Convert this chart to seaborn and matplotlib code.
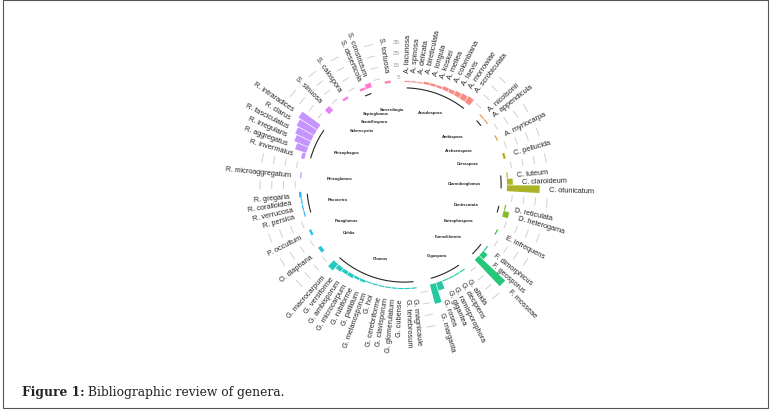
#!/usr/bin/env python3
"""Circular barplot: bibliographic review of AMF genera (references per species)."""

import numpy as np
import seaborn as sns
from matplotlib import pyplot as plt
from matplotlib.patches import Rectangle

# --- data -------------------------------------------------------------------
genera = [
    "Acaulospora", "Ambispora", "Archaeospora", "Cetraspora", "Claroideoglomus",
    "Dentiscutata", "Entrophospora", "Funneliformis", "Gigaspora", "Glomus",
    "Oehlia", "Paraglomus", "Racocetra", "Rhizoglomus", "Rhizophagus",
    "Sclerocystis", "Scutellospora", "Septoglomus", "Sieverdingia",
]

species = [
    "A. lacunosa", "A. spinosa", "A. delicata", "A. bireticulata", "A. longula",
    "A. koskei", "A. mellea", "A. colombiana", "A. laevis", "A. morrowiae",
    "A. scrobiculata",
    "A. nicolsonii", "A. appendicula",
    "A. myriocarpa",
    "C. pellucida",
    "C. luteum", "C. claroideum", "C. otunicatum",
    "D. reticulata", "D. heterogama",
    "E. infrequens",
    "F. dimorphicus", "F. geosporus", "F. mosseae",
    "G. albida", "G. decipiens", "G. ramisporophora", "G. gigantea", "G. rosea",
    "G. margarita",
    "G. magnicaule", "G. tenebrosum", "G. cubense", "G. glomerulatum",
    "G. clavisporum", "G. cerebriforme", "G. hoi", "G. melanosporum",
    "G. pallidum", "G. rubiforme", "G. microcarpum", "G. ambisporum",
    "G. versiforme", "G. macrocarpum",
    "O. diaphana",
    "P. occultum",
    "R. persica", "R. verrucosa", "R. coralloidea", "R. gregaria",
    "R. microaggregatum",
    "R. invermaius", "R. aggregatus", "R. irregularis", "R. fasciculatus",
    "R. clarus", "R. intraradices",
    "S. sinuosa",
    "S. calospora",
    "S. deserticola", "S. constrictum",
    "S. tortuosa",
]

species_per_genus = [11, 2, 1, 1, 3, 2, 1, 3, 6, 14, 1, 1, 4, 1, 6, 1, 1, 2, 1]

n_refs = [
    1, 1, 1, 2, 2, 2, 3, 3, 4, 5, 6,
    1, 1,
    1,
    2,
    1, 5, 28,
    1, 5,
    1,
    1, 5, 31,
    1, 1, 1, 1, 7, 17,
    1, 1, 1, 1, 1, 1, 1, 1, 2, 2, 3, 3, 4, 7,
    3,
    2,
    1, 1, 1, 2,
    1,
    3, 10, 13, 15, 17, 19,
    5,
    2,
    2, 4,
    2,
]

scale_ticks = [5, 15, 25, 35]
caption_bold = "Figure 1:"
caption_text = "Bibliographic review of genera."


def hcl_color(h, c=100.0, l=65.0):
    """Couleur HCL (polar Luv) -> sRGB, comme la palette par défaut de ggplot."""
    hr = np.deg2rad(h)
    u, v = c * np.cos(hr), c * np.sin(hr)
    xn, yn, zn = 95.047, 100.0, 108.883
    den = xn + 15 * yn + 3 * zn
    un, vn = 4 * xn / den, 9 * yn / den
    y = yn * ((l + 16) / 116) ** 3
    up, vp = u / (13 * l) + un, v / (13 * l) + vn
    x = y * 9 * up / (4 * vp)
    z = y * (12 - 3 * up - 20 * vp) / (4 * vp)
    m = np.array([[3.2404542, -1.5371385, -0.4985314],
                  [-0.9692660, 1.8760108, 0.0415560],
                  [0.0556434, -0.2040259, 1.0572252]])
    rgb = m @ (np.array([x, y, z]) / 100)
    rgb = np.clip(rgb, 0, None)
    rgb = np.where(rgb <= 0.0031308, 12.92 * rgb, 1.055 * rgb ** (1 / 2.4) - 0.055)
    return tuple(np.clip(rgb, 0, 1))


def main():
    sns.set_theme(style="white")
    plt.rcParams["font.family"] = ["Liberation Sans", "DejaVu Sans"]

    n_gen = len(genera)
    palette = sns.color_palette(
        [hcl_color(15 + 360 * k / n_gen) for k in range(n_gen)]
    )

    # positions : 2 cases vides après chaque genre
    empty = 2
    slot_of, genus_idx, starts, ends = [], [], [], []
    pos = 0
    for g, n in enumerate(species_per_genus):
        starts.append(pos)
        for _ in range(n):
            slot_of.append(pos)
            genus_idx.append(g)
            pos += 1
        ends.append(pos - 1)
        pos += empty
    n_slots = pos
    step = 2 * np.pi / n_slots
    theta = (np.array(slot_of) + 0.5) * step

    W, H = 772, 414
    fig = plt.figure(figsize=(W / 100, H / 100), dpi=100)
    cx, cy = 404, 186          # centre en pixels
    r_min, r_max = -88, 60     # valeurs (0 = bord intérieur des barres)
    px_per_unit = 1.17
    R = (r_max - r_min) * px_per_unit
    ax = fig.add_axes([(cx - R) / W, 1 - (cy + R) / H, 2 * R / W, 2 * R / H],
                      projection="polar")
    ax.set_theta_zero_location("N")
    ax.set_theta_direction(-1)
    ax.set_ylim(r_min, r_max)
    ax.axis("off")

    # grille grise dans les espaces entre genres
    for g in range(1, n_gen):
        t0 = (ends[g - 1] + 1 + 0.5) * step
        t1 = (starts[g] - 1 + 0.5) * step
        tt = np.linspace(t0, t1, 12)
        for v in scale_ticks:
            ax.plot(tt, np.full_like(tt, v), color="#c8c8c8", lw=0.6,
                    solid_capstyle="butt")

    # barres
    colors = [palette[g] for g in genus_idx]
    ax.bar(theta, n_refs, width=step * 0.9, bottom=0, color=colors,
           alpha=0.85, linewidth=0)

    # échelle dans le premier espace
    t_scale = (n_slots - 1 + 0.5) * step
    for v in scale_ticks:
        ax.text(t_scale, v, str(v), ha="right", va="center", fontsize=4.6,
                color="#9a9a9a")

    # noms des espèces
    for t, v, name in zip(theta, n_refs, species):
        deg = np.rad2deg(t)
        if deg < 180:
            rot, ha = 90 - deg, "left"
        else:
            rot, ha = 270 - deg, "right"
        ax.text(t, v + 8, name, rotation=rot, rotation_mode="anchor",
                ha=ha, va="center", fontsize=5.3, color="#262626",
                clip_on=False)

    # arcs noirs et noms des genres
    for g in range(n_gen):
        t0 = (starts[g] + 0.5) * step
        t1 = (ends[g] + 0.5) * step
        if ends[g] > starts[g]:
            tt = np.linspace(t0, t1, 30)
            ax.plot(tt, np.full_like(tt, -5), color="black", alpha=0.85, lw=0.8)
        tm = (t0 + t1) / 2
        s = np.sin(tm)
        ha_frac = 0.5 + 0.5 * s
        ha = "center"
        if ha_frac > 0.75:
            ha = "right"
        elif ha_frac < 0.25:
            ha = "left"
        ax.text(tm, -22, genera[g], ha=ha, va="center", fontsize=3,
                fontweight="bold", color="#222222")

    # légende de la figure
    fig.text(22 / W, 1 - 393 / H, caption_bold, family="DejaVu Serif",
             fontweight="bold", fontsize=8.8, va="center", color="#222222")
    fig.text(88 / W, 1 - 393 / H, caption_text, family="DejaVu Serif",
             fontsize=8.8, va="center", color="#222222")

    fig.patches.append(Rectangle((3 / W, 5 / H), 765 / W, 408 / H,
                                 transform=fig.transFigure, fill=False,
                                 edgecolor="#555555", lw=0.8))

    fig.savefig("out.png", dpi=100)


if __name__ == "__main__":
    main()
